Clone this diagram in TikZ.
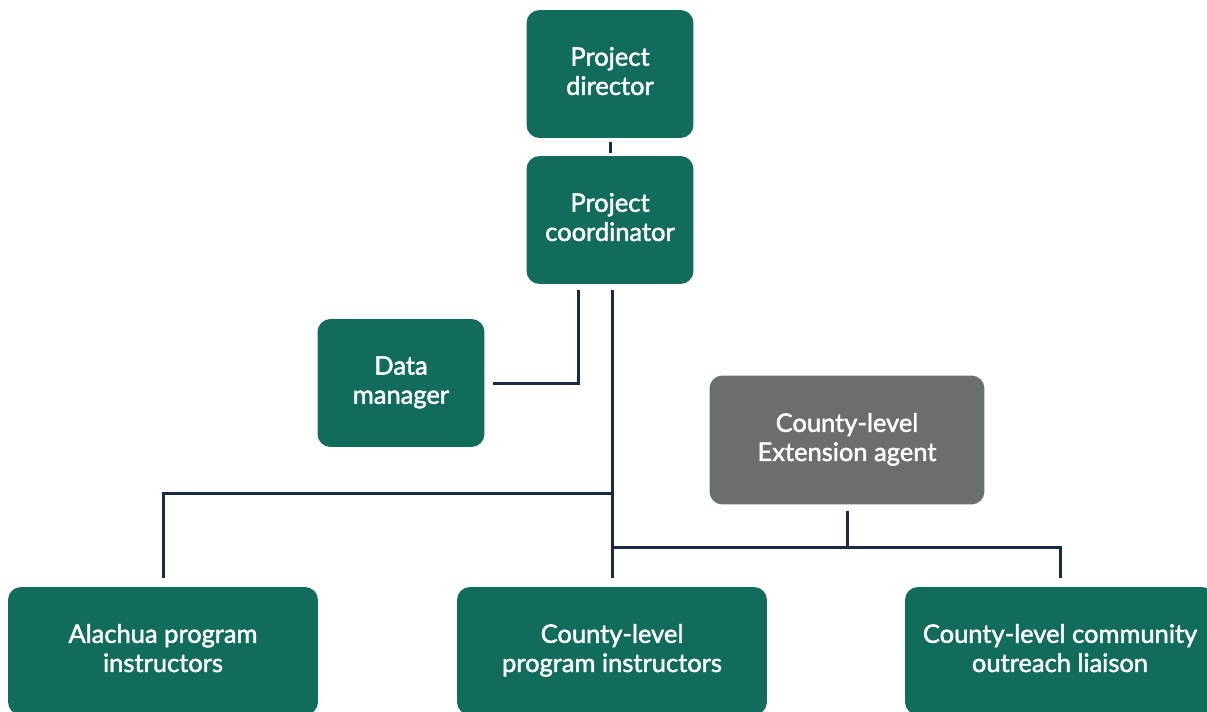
\documentclass[tikz,border=0pt]{standalone}
\usepackage{fontspec}
\setmainfont{Lato}
\newfontfamily\orgfont{Lato}[FakeBold=1.8]
\usepackage{xcolor}
\usetikzlibrary{positioning}
\definecolor{boxgreen}{RGB}{17,108,92}
\definecolor{boxgrey}{RGB}{107,110,110}
\definecolor{linknavy}{RGB}{24,42,72}

\begin{document}
\begin{tikzpicture}[x=0.02cm,y=-0.02cm]
\tikzset{orgbox/.style={fill=boxgreen,text=white,rounded corners=0.26cm,align=center,inner sep=0pt,minimum height=2.56cm,text depth=0.12cm,font=\orgfont\fontsize{14.5}{16.6}\selectfont}}
\tikzset{smallbox/.style={orgbox,minimum width=3.34cm}}
\tikzset{widebox/.style={orgbox,minimum width=6.2cm}}
\tikzset{agentbox/.style={orgbox,fill=boxgrey,minimum width=5.5cm,minimum height=2.58cm}}
\tikzset{link/.style={draw=linknavy,line width=0.06cm,shorten <=0.12cm,shorten >=0.18cm}}

\useasboundingbox (0,0) rectangle (1207,711);
\clip (0,0) rectangle (1207,711);

\node[smallbox] (director) at (610,74) {Project\\director};
\node[smallbox] (coordinator) at (610,220) {Project\\coordinator};
\node[smallbox] (datamgr) at (401,383) {Data\\manager};
\node[agentbox] (agent) at (847,440) {County-level\\Extension agent};
\node[widebox] (alachua) at (163,651) {Alachua program\\instructors};
\node[widebox] (countyprog) at (612,651) {County-level\\program instructors};
\node[widebox] (liaison) at (1060,651) {County-level community\\outreach liaison};

\coordinate (upper) at (612,493);
\coordinate (lower) at (612,547);

\draw[link,shorten <=0.08cm,shorten >=0.06cm] (director) -- (coordinator);
\draw[link,shorten >=0.16cm] ([xshift=-0.64cm]coordinator.south) |- (datamgr.east);
\draw[link] (coordinator.south -| countyprog.north) -- (countyprog.north);
\draw[link,shorten <=0cm] (upper) -| (alachua.north);
\draw[link,shorten <=0cm] (lower) -| (liaison.north);
\draw[link,shorten >=0cm] (agent.south) -- (agent.south |- lower);

\end{tikzpicture}
\end{document}
